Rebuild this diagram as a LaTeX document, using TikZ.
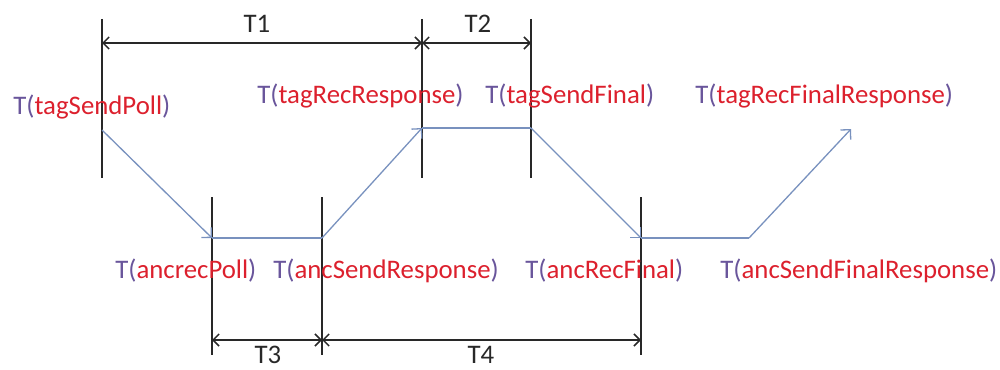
\documentclass[tikz,border=0pt]{standalone}
\usepackage{fontspec}
\setmainfont{Carlito}
\usetikzlibrary{arrows.meta}
\definecolor{tpurple}{RGB}{105,85,155}
\definecolor{tred}{RGB}{220,32,45}
\definecolor{tblue}{RGB}{120,145,190}
\definecolor{tblack}{RGB}{40,40,40}
\newcommand{\tlab}[1]{\textcolor{tpurple}{T(}\textcolor{tred}{#1}\textcolor{tpurple}{)}}
\tikzset{
  vline/.style={draw=tblack, line width=0.75pt},
  dim/.style={draw=tblack, line width=0.75pt, {Straight Barb[length=3pt,width=6pt]}-{Straight Barb[length=3pt,width=6pt]}},
  flow/.style={draw=tblue, line width=0.65pt},
  flowarr/.style={flow, -{Straight Barb[length=3.5pt,width=7pt]}},
  lab/.style={font=\fontsize{13.4pt}{15pt}\selectfont, inner sep=0pt, anchor=base west},
  dimlab/.style={font=\fontsize{13.4pt}{15pt}\selectfont, inner sep=0pt, anchor=base, text=tblack},
}
\begin{document}
\begin{tikzpicture}[x=0.5pt,y=-0.5pt]
\useasboundingbox (0,0) rectangle (1000,369);
% vertical lines
\coordinate (v1t) at (102,19);  \coordinate (v1b) at (102,178);
\coordinate (v2t) at (422,19);  \coordinate (v2b) at (422,178);
\coordinate (v3t) at (531,19);  \coordinate (v3b) at (531,178);
\coordinate (v4t) at (212,197); \coordinate (v4b) at (212,355);
\coordinate (v5t) at (322,197); \coordinate (v5b) at (322,355);
\coordinate (v6t) at (641,197); \coordinate (v6b) at (641,355);
\draw[vline] (v1t) -- (v1b);
\draw[vline] (v2t) -- (v2b);
\draw[vline] (v3t) -- (v3b);
\draw[vline] (v4t) -- (v4b);
\draw[vline] (v5t) -- (v5b);
\draw[vline] (v6t) -- (v6b);
% dimension arrows
\coordinate (d1) at (102,43); \coordinate (d2) at (422,43); \coordinate (d3) at (531,43);
\coordinate (d4) at (212,340); \coordinate (d5) at (322,340); \coordinate (d6) at (641,340);
\draw[dim] (d1) -- (d2);
\draw[dim] (d2) -- (d3);
\draw[dim] (d4) -- (d5);
\draw[dim] (d5) -- (d6);
\node[dimlab] (t1) at (257,33) {T1};
\node[dimlab] (t2) at (478,33) {T2};
\node[dimlab] (t3) at (268,363) {T3};
\node[dimlab] (t4) at (481,363) {T4};
% flow path
\coordinate (pA) at (102,130);
\coordinate (pB) at (212,238);
\coordinate (pC) at (322,238);
\coordinate (pD) at (422,128);
\coordinate (pE) at (531,128);
\coordinate (pF) at (641,238);
\coordinate (pG) at (749,238);
\coordinate (pH) at (851,129);
\draw[flowarr] (pA) -- (pB);
\draw[flow] (pB) -- (pC);
\draw[flowarr] (pC) -- (pD);
\draw[flow] (pD) -- (pE);
\draw[flowarr] (pE) -- (pF);
\draw[flow] (pF) -- (pG);
\draw[flowarr] (pG) -- (pH);
% labels
\node[lab] (l1) at (13,114) {\tlab{tagSendPoll}};
\node[lab] (l2) at (257,104) {\tlab{tagRecResponse}};
\node[lab] (l3) at (485,104) {\tlab{tagSendFinal}};
\node[lab] (l4) at (695,104) {\tlab{tagRecFinalResponse}};
\node[lab] (l5) at (115,278) {\tlab{ancrecPoll}};
\node[lab] (l6) at (273,278) {\tlab{ancSendResponse}};
\node[lab] (l7) at (525,278) {\tlab{ancRecFinal}};
\node[lab] (l8) at (720,278) {\tlab{ancSendFinalResponse}};
\end{tikzpicture}
\end{document}
